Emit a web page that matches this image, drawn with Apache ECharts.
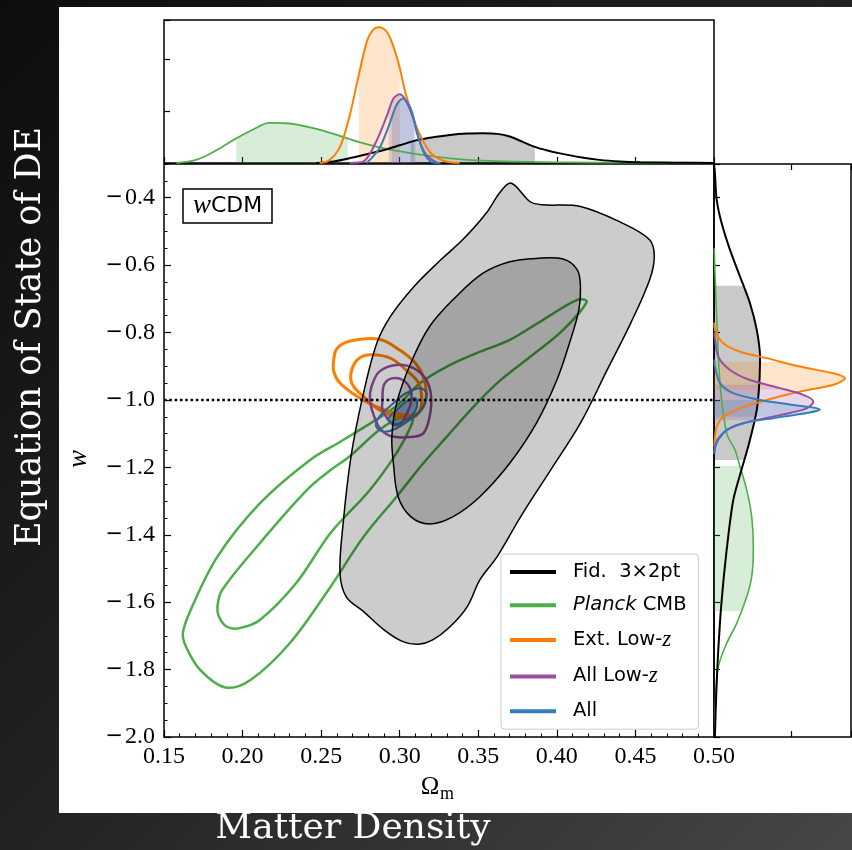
<!DOCTYPE html>
<html><head><meta charset="utf-8">
<script src="https://cdn.jsdelivr.net/npm/echarts@6/dist/echarts.min.js"></script>
<style>
html,body{margin:0;padding:0;}
body{width:852px;height:850px;background:linear-gradient(135deg,#0d0d0d 0%,#222 50%,#474747 100%);position:relative;overflow:hidden;}
#panel{position:absolute;left:59px;top:7px;width:793px;height:806px;background:#fff;}
#chart{position:absolute;left:0;top:0;width:852px;height:850px;}
</style></head><body><div id="panel"></div><div id="chart"></div>
<script>
// ---------- 2D contours (Omega_m, w) ----------
const fidOuter = [[0.371,-0.357],[0.383,-0.412],[0.391,-0.421],[0.415,-0.426],[0.442,-0.476],[0.459,-0.525],[0.462,-0.575],[0.459,-0.644],[0.447,-0.772],[0.432,-0.911],[0.415,-1.069],[0.396,-1.208],[0.377,-1.346],[0.362,-1.465],[0.351,-1.534],[0.343,-1.613],[0.332,-1.673],[0.321,-1.712],[0.312,-1.725],[0.302,-1.717],[0.290,-1.682],[0.277,-1.628],[0.266,-1.584],[0.262,-1.514],[0.264,-1.366],[0.269,-1.168],[0.276,-1.000],[0.285,-0.837],[0.294,-0.753],[0.309,-0.664],[0.326,-0.585],[0.340,-0.525],[0.355,-0.446],[0.364,-0.383]];
const fidInner = [[0.387,-0.580],[0.404,-0.582],[0.413,-0.614],[0.415,-0.664],[0.414,-0.733],[0.408,-0.832],[0.400,-0.941],[0.387,-1.069],[0.370,-1.188],[0.351,-1.287],[0.334,-1.346],[0.319,-1.368],[0.307,-1.346],[0.299,-1.287],[0.296,-1.188],[0.295,-1.109],[0.298,-1.010],[0.307,-0.891],[0.319,-0.782],[0.336,-0.693],[0.353,-0.624],[0.370,-0.590]];
const planckOuter = [[0.419,-0.709],[0.404,-0.792],[0.383,-0.872],[0.362,-0.950],[0.345,-1.030],[0.330,-1.109],[0.315,-1.188],[0.298,-1.287],[0.277,-1.406],[0.256,-1.554],[0.230,-1.722],[0.205,-1.831],[0.189,-1.853],[0.173,-1.801],[0.164,-1.732],[0.162,-1.692],[0.167,-1.623],[0.184,-1.465],[0.211,-1.307],[0.243,-1.178],[0.264,-1.119],[0.298,-1.018],[0.313,-0.950],[0.330,-0.901],[0.349,-0.861],[0.370,-0.822],[0.391,-0.763],[0.413,-0.703]];
const planckInner = [[0.308,-1.047],[0.307,-1.079],[0.298,-1.158],[0.281,-1.267],[0.256,-1.395],[0.234,-1.544],[0.211,-1.653],[0.198,-1.677],[0.190,-1.673],[0.185,-1.643],[0.184,-1.613],[0.187,-1.564],[0.211,-1.425],[0.241,-1.267],[0.256,-1.208],[0.268,-1.168],[0.287,-1.089],[0.302,-1.047]];
const extOuter = [[0.258,-0.881],[0.260,-0.848],[0.268,-0.826],[0.287,-0.820],[0.300,-0.852],[0.310,-0.891],[0.315,-0.931],[0.317,-0.980],[0.315,-1.020],[0.309,-1.045],[0.298,-1.040],[0.285,-1.020],[0.273,-0.990],[0.262,-0.950],[0.258,-0.915]];
const extInner = [[0.269,-0.921],[0.273,-0.881],[0.281,-0.866],[0.294,-0.876],[0.304,-0.911],[0.312,-0.950],[0.314,-1.000],[0.312,-1.039],[0.307,-1.054],[0.298,-1.050],[0.287,-1.030],[0.277,-0.990],[0.270,-0.955]];
const allLowOuter = [[0.282,-0.961],[0.287,-0.916],[0.298,-0.896],[0.309,-0.906],[0.317,-0.941],[0.320,-0.990],[0.319,-1.050],[0.315,-1.099],[0.307,-1.110],[0.294,-1.107],[0.287,-1.082],[0.283,-1.039],[0.281,-1.000]];
const allLowInner = [[0.289,-1.000],[0.290,-0.955],[0.295,-0.936],[0.302,-0.941],[0.307,-0.970],[0.307,-1.010],[0.304,-1.045],[0.301,-1.069],[0.296,-1.074],[0.292,-1.054],[0.289,-1.030]];
const allOuter = [[0.285,-1.079],[0.287,-1.050],[0.296,-1.010],[0.304,-0.980],[0.313,-0.965],[0.317,-0.980],[0.315,-1.020],[0.309,-1.050],[0.298,-1.084],[0.290,-1.094]];
const allInner = [[0.293,-1.054],[0.298,-1.030],[0.304,-1.005],[0.310,-0.995],[0.311,-1.020],[0.307,-1.050],[0.300,-1.069],[0.295,-1.069]];
const refLine = [[0.15,-1.0],[0.50,-1.0]];

// ---------- 1D marginals: Omega_m (top), [Omega_m, density] ----------
const fidOm = [[0.247,0],[0.258,0.03],[0.268,0.09],[0.279,0.17],[0.290,0.25],[0.300,0.34],[0.311,0.44],[0.322,0.50],[0.332,0.54],[0.343,0.565],[0.353,0.57],[0.362,0.56],[0.370,0.51],[0.378,0.41],[0.386,0.31],[0.394,0.24],[0.402,0.185],[0.415,0.11],[0.427,0.06],[0.440,0.03],[0.453,0.015],[0.475,0.005],[0.50,0.0]];
const planckOm = [[0.158,0.0],[0.168,0.04],[0.177,0.14],[0.186,0.29],[0.194,0.44],[0.207,0.65],[0.217,0.77],[0.230,0.76],[0.245,0.67],[0.260,0.54],[0.273,0.41],[0.290,0.28],[0.311,0.17],[0.332,0.09],[0.353,0.045],[0.396,0.015],[0.45,0.006],[0.50,0.003]];
const extOm = [[0.249,0],[0.255,0.05],[0.262,0.31],[0.268,0.89],[0.273,1.56],[0.279,2.33],[0.283,2.56],[0.287,2.61],[0.291,2.55],[0.294,2.40],[0.299,1.95],[0.304,1.31],[0.311,0.67],[0.319,0.22],[0.325,0.08],[0.330,0.025],[0.338,0]];
const allLowOm = [[0.268,0],[0.277,0.03],[0.285,0.41],[0.292,0.92],[0.296,1.24],[0.300,1.32],[0.303,1.24],[0.308,0.92],[0.312,0.47],[0.317,0.15],[0.324,0]];
const allOm = [[0.279,0],[0.287,0.28],[0.294,0.79],[0.298,1.12],[0.302,1.24],[0.307,1.05],[0.311,0.60],[0.315,0.22],[0.320,0.025],[0.326,0]];
const fidOmBand = [0.307,0.386], planckOmBand = [0.196,0.267], extOmBand = [0.274,0.300], allLowOmBand = [0.293,0.309], allOmBand = [0.295,0.310];

// ---------- 1D marginals: w (right), [density, w] ----------
const fidW = [[0.005,-0.31],[0.013,-0.332],[0.035,-0.407],[0.099,-0.476],[0.206,-0.555],[0.335,-0.634],[0.463,-0.713],[0.550,-0.792],[0.592,-0.872],[0.583,-0.950],[0.550,-1.030],[0.45,-1.13],[0.35,-1.21],[0.248,-1.297],[0.163,-1.445],[0.099,-1.593],[0.055,-1.742],[0.026,-1.890],[0.013,-1.988],[0.010,-2.0]];
const planckW = [[0.003,-0.55],[0.013,-0.624],[0.035,-0.753],[0.077,-0.950],[0.163,-1.099],[0.270,-1.148],[0.335,-1.198],[0.421,-1.267],[0.485,-1.346],[0.506,-1.445],[0.485,-1.524],[0.421,-1.584],[0.292,-1.663],[0.163,-1.722],[0.055,-1.791],[0.026,-1.861],[0.013,-1.940],[0.008,-2.0]];
const extW = [[0.005,-0.77],[0.013,-0.792],[0.12,-0.832],[0.335,-0.857],[0.678,-0.876],[1.107,-0.901],[1.535,-0.921],[1.686,-0.936],[1.535,-0.955],[1.107,-0.975],[0.678,-1.000],[0.335,-1.025],[0.12,-1.050],[0.035,-1.079],[0.013,-1.109],[0.005,-1.14]];
const allLowW = [[0.005,-0.80],[0.013,-0.817],[0.055,-0.872],[0.206,-0.911],[0.463,-0.941],[0.849,-0.965],[1.149,-0.985],[1.278,-1.005],[1.193,-1.025],[0.849,-1.045],[0.463,-1.064],[0.206,-1.084],[0.055,-1.114],[0.013,-1.139],[0.005,-1.16]];
const allW = [[0.005,-0.88],[0.013,-0.901],[0.077,-0.950],[0.248,-0.980],[0.592,-1.000],[1.021,-1.015],[1.364,-1.028],[1.193,-1.039],[0.763,-1.054],[0.377,-1.069],[0.163,-1.089],[0.055,-1.119],[0.013,-1.143],[0.005,-1.16]];
const fidWBand = [-1.178,-0.661], planckWBand = [-1.626,-1.196], extWBand = [-0.970,-0.887], allLowWBand = [-1.060,-0.955], allWBand = [-1.050,-1.000];

const legendNames = ['Fid. 3×2pt','Planck CMB','Ext. Low-z','All Low-z','All'];
const xTickFmt = v => '{n|' + v.toFixed(2) + '}';
const yTickFmt = v => (v < 0 ? '{m|\u2212}' : '') + '{n|' + Math.abs(v).toFixed(1) + '}';

const BLACK = '#000000', GREEN = '#4daf4a', ORANGE = '#ff7f00', PURPLE = '#984ea3', BLUE = '#377eb8';
const colors = [BLACK, GREEN, ORANGE, PURPLE, BLUE];

function poly(name, pts, xi, yi, fill, stroke, lw, z) {
  return { type: 'custom', name: name, xAxisIndex: xi, yAxisIndex: yi, z: z, silent: true,
    data: [pts[0]],
    renderItem: function (params, api) {
      return { type: 'polygon', shape: { points: pts.map(p => api.coord(p)), smooth: 0.35 },
        style: { fill: fill || 'none', stroke: stroke || 'none', lineWidth: lw || 0 } };
    } };
}
function interpAt(c, k, v) {
  for (let i = 0; i < c.length - 1; i++) {
    const a = c[i][k], b = c[i + 1][k];
    if ((v - a) * (v - b) <= 0 && a !== b) { const t = (v - a) / (b - a); return c[i][1 - k] + t * (c[i + 1][1 - k] - c[i][1 - k]); }
  }
  return 0;
}
function mk(k, p, d) { return k === 0 ? [p, d] : [d, p]; }
function bandPoly(c, k, band) {
  const lo = Math.min(band[0], band[1]), hi = Math.max(band[0], band[1]);
  const inside = c.filter(p => p[k] > lo && p[k] < hi).sort((a, b) => a[k] - b[k]);
  return [mk(k, lo, 0), mk(k, lo, interpAt(c, k, lo))].concat(inside).concat([mk(k, hi, interpAt(c, k, hi)), mk(k, hi, 0)]);
}
function flat(name, pts, xi, yi, fill, z) {
  return { type: 'custom', name: name, xAxisIndex: xi, yAxisIndex: yi, z: z, silent: true, data: [pts[0]],
    renderItem: function (params, api) {
      return { type: 'polygon', shape: { points: pts.map(p => api.coord(p)) }, style: { fill: fill } };
    } };
}
function curve(data, xi, yi, color, w, z) {
  return { type: 'line', data: data, xAxisIndex: xi, yAxisIndex: yi, symbol: 'none', showSymbol: false,
    smooth: 0.3, lineStyle: { color: color, width: w }, z: z, silent: true };
}

const tickStyle = { color: '#000', width: 1.2 };
const hidden = { show: false };

const series = [
  // main panel: coloured contours first, then translucent grey Fid. fills on top, then black outlines
  poly('All', allInner, 1, 1, 'rgba(55,126,184,0.5)', null, 0, 1),
  poly('Planck CMB', planckOuter, 1, 1, null, GREEN, 2.5, 2),
  poly('Planck CMB', planckInner, 1, 1, null, GREEN, 2.5, 2),
  poly('Ext. Low-z', extOuter, 1, 1, null, ORANGE, 3, 3),
  poly('Ext. Low-z', extInner, 1, 1, null, ORANGE, 3, 3),
  poly('All Low-z', allLowOuter, 1, 1, null, PURPLE, 2.5, 4),
  poly('All Low-z', allLowInner, 1, 1, null, PURPLE, 2.5, 4),
  poly('All', allOuter, 1, 1, null, BLUE, 2, 5),
  poly('All', allInner, 1, 1, null, BLUE, 2, 5),
  poly('Fid. 3×2pt', fidOuter, 1, 1, 'rgba(0,0,0,0.2)', null, 0, 6),
  poly('Fid. 3×2pt', fidInner, 1, 1, 'rgba(0,0,0,0.2)', null, 0, 6),
  poly('Fid. 3×2pt', fidOuter, 1, 1, null, BLACK, 1.5, 7),
  poly('Fid. 3×2pt', fidInner, 1, 1, null, BLACK, 1.5, 7),
  { type: 'line', data: refLine, xAxisIndex: 1, yAxisIndex: 1, symbol: 'none', z: 9, silent: true,
    lineStyle: { color: '#000', width: 2.6, type: [2.6, 2.7] } },
  // top marginal fills
  flat('pg', bandPoly(planckOm, 0, planckOmBand), 0, 0, 'rgba(77,175,74,0.22)', 1),
  flat('fg', bandPoly(fidOm, 0, fidOmBand), 0, 0, 'rgba(0,0,0,0.21)', 1),
  flat('eg', bandPoly(extOm, 0, extOmBand), 0, 0, 'rgba(255,127,0,0.2)', 1),
  flat('lg', bandPoly(allLowOm, 0, allLowOmBand), 0, 0, 'rgba(152,78,163,0.22)', 1),
  flat('ag', bandPoly(allOm, 0, allOmBand), 0, 0, 'rgba(55,126,184,0.22)', 1),
  curve(planckOm, 0, 0, GREEN, 1.8, 3),
  curve(fidOm, 0, 0, BLACK, 2, 3),
  curve(extOm, 0, 0, ORANGE, 2, 3),
  curve(allLowOm, 0, 0, PURPLE, 2, 3),
  curve(allOm, 0, 0, BLUE, 2, 3),
  // right marginal fills
  flat('pw', bandPoly(planckW, 1, planckWBand), 2, 3, 'rgba(77,175,74,0.22)', 1),
  flat('fw', bandPoly(fidW, 1, fidWBand), 2, 3, 'rgba(0,0,0,0.21)', 1),
  flat('ew', bandPoly(extW, 1, extWBand), 2, 3, 'rgba(255,127,0,0.2)', 1),
  flat('lw', bandPoly(allLowW, 1, allLowWBand), 2, 3, 'rgba(152,78,163,0.22)', 1),
  flat('aw', bandPoly(allW, 1, allWBand), 2, 3, 'rgba(55,126,184,0.22)', 1),
  curve(planckW, 2, 3, GREEN, 1.6, 3),
  curve(fidW, 2, 3, BLACK, 2, 3),
  curve(extW, 2, 3, ORANGE, 2, 3),
  curve(allLowW, 2, 3, PURPLE, 2, 3),
  curve(allW, 2, 3, BLUE, 2, 3)
];

const labelRich = {
  n: { fontFamily: 'Liberation Serif', fontSize: 24, color: '#000' },
  m: { fontFamily: 'DejaVu Sans', fontSize: 21, color: '#000', padding: [0, 2, 0, 0] }
};
const chart = echarts.init(document.getElementById('chart'), null, { renderer: 'canvas' });
chart.setOption({
  animation: false,
  backgroundColor: 'transparent',
  grid: [
    { left: 164, top: 20, width: 550, height: 143, show: true, borderColor: '#000', borderWidth: 1.5, backgroundColor: 'transparent' },
    { left: 164, top: 164, width: 550, height: 573, show: true, borderColor: '#000', borderWidth: 1.5, backgroundColor: 'transparent' },
    { left: 714, top: 164, width: 137, height: 573, show: true, borderColor: '#000', borderWidth: 1.5, backgroundColor: 'transparent' }
  ],
  xAxis: [
    { gridIndex: 0, type: 'value', min: 0.15, max: 0.5, interval: 0.05, axisLine: hidden, axisLabel: hidden, splitLine: hidden,
      axisTick: { show: true, inside: true, length: 6, lineStyle: tickStyle } },
    { gridIndex: 1, type: 'value', min: 0.15, max: 0.5, interval: 0.05, axisLine: hidden, splitLine: hidden,
      axisTick: { show: true, inside: true, length: 7, lineStyle: tickStyle },
      minorTick: { show: true, splitNumber: 5, length: 3.5, lineStyle: { color: '#000', width: 1 } },
      axisLabel: { margin: 8, formatter: xTickFmt, rich: labelRich } },
    { gridIndex: 2, type: 'value', position: 'bottom', min: 0, max: 1.763, interval: 1, axisLine: hidden, axisLabel: hidden, splitLine: hidden,
      axisTick: { show: true, inside: true, length: 6, lineStyle: tickStyle } },
    { gridIndex: 2, type: 'value', position: 'top', min: 0, max: 1.763, interval: 1, axisLine: hidden, axisLabel: hidden, splitLine: hidden,
      axisTick: { show: true, inside: true, length: 6, lineStyle: tickStyle } }
  ],
  yAxis: [
    { gridIndex: 0, type: 'value', min: 0, max: 2.75, interval: 1, axisLine: hidden, axisLabel: hidden, splitLine: hidden,
      axisTick: { show: true, inside: true, length: 6, lineStyle: tickStyle } },
    { gridIndex: 1, type: 'value', position: 'left', min: -2.0, max: -0.3, interval: 0.2, axisLine: hidden, splitLine: hidden,
      axisTick: { show: true, inside: true, length: 7, lineStyle: tickStyle },
      axisLabel: { margin: 9, formatter: yTickFmt, showMaxLabel: false, rich: labelRich } },
    { gridIndex: 1, type: 'value', position: 'left', min: -2.0, max: -0.3, interval: 0.05, axisLine: hidden, axisLabel: hidden, splitLine: hidden,
      axisTick: { show: true, inside: true, length: 3.5, lineStyle: { color: '#000', width: 1 } } },
    { gridIndex: 2, type: 'value', position: 'left', min: -2.0, max: -0.3, interval: 0.2, axisLine: hidden, axisLabel: hidden, splitLine: hidden,
      axisTick: { show: true, inside: true, length: 6, lineStyle: tickStyle } }
  ],
  title: {
    text: '{w|w}{c|CDM}', left: 183, top: 186, padding: [4, 10, 4, 10], borderColor: '#000', borderWidth: 1.5, backgroundColor: '#fff',
    textStyle: { fontWeight: 'normal', rich: {
      w: { fontFamily: 'Liberation Serif', fontStyle: 'italic', fontWeight: 'normal', fontSize: 27, color: '#000', lineHeight: 32 },
      c: { fontFamily: 'DejaVu Sans', fontWeight: 'normal', fontSize: 22, color: '#000', lineHeight: 32 } } }
  },
  legend: {
    orient: 'vertical', left: 501, top: 554, padding: [8, 12, 8, 9], itemGap: 13.3,
    itemWidth: 46, itemHeight: 4, icon: 'rect', selectedMode: false,
    backgroundColor: 'rgba(255,255,255,0.85)', borderColor: '#cccccc', borderWidth: 1, borderRadius: 4, z: 20,
    data: legendNames.map((n, i) => ({ name: n, icon: 'rect', itemStyle: { color: colors[i], borderWidth: 0 } })),
    formatter: function (n) {
      if (n === 'Fid. 3×2pt') return 'Fid.  3×2pt';
      if (n === 'Planck CMB') return '{it|Planck} CMB';
      if (n === 'Ext. Low-z') return 'Ext. Low-{z|z}';
      if (n === 'All Low-z') return 'All Low-{z|z}';
      return n;
    },
    textStyle: { fontFamily: 'DejaVu Sans', fontSize: 19.5, color: '#000', lineHeight: 20, padding: [0, 0, 0, 12],
      rich: { it: { fontFamily: 'DejaVu Sans', fontStyle: 'italic', fontSize: 19.5, color: '#000', lineHeight: 20 },
              z: { fontFamily: 'Liberation Serif', fontStyle: 'italic', fontSize: 23, color: '#000', lineHeight: 20 } } }
  },
  graphic: [
    { type: 'text', x: 31, y: 337, rotation: Math.PI / 2, silent: true,
      style: { text: 'Equation of State of DE', fill: '#fff', font: '35px "DejaVu Serif"', align: 'center', verticalAlign: 'middle' } },
    { type: 'text', x: 353, y: 829, silent: true,
      style: { text: 'Matter Density', fill: '#fff', font: '36px "DejaVu Serif"', align: 'center', verticalAlign: 'middle' } },
    { type: 'text', x: 79, y: 459, rotation: Math.PI / 2, silent: true,
      style: { text: 'w', fill: '#000', font: 'italic 27px "Liberation Serif"', align: 'center', verticalAlign: 'middle' } },
    { type: 'text', x: 430, y: 787, silent: true,
      style: { text: 'Ω', fill: '#000', font: '25px "Liberation Serif"', align: 'center', verticalAlign: 'middle' } },
    { type: 'text', x: 447, y: 794, silent: true,
      style: { text: 'm', fill: '#000', font: '18px "Liberation Serif"', align: 'center', verticalAlign: 'middle' } }
  ],
  series: series
});
</script></body></html>
